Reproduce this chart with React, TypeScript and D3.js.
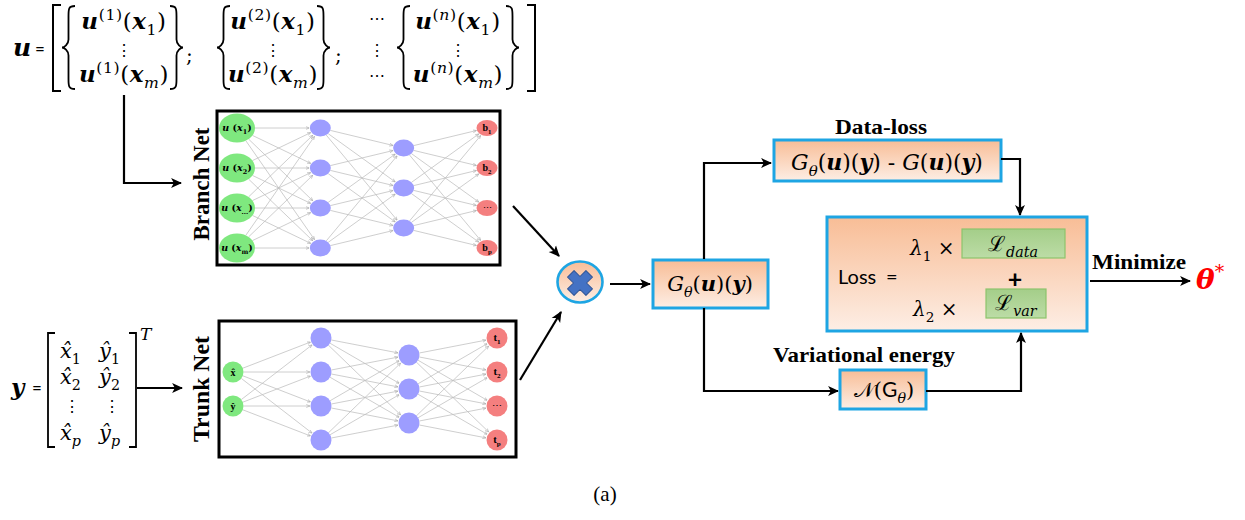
import React from "react";
import * as d3 from "d3";

// ---------- data ----------
const branchLayerSizes = [4, 4, 3, 4];
const trunkLayerSizes = [2, 4, 3, 4];
const branchInputSubs = ["1", "2", "...", "m"];
const branchOutputSubs = ["1", "2", "", "p"];
const trunkInputLabels = ["x\u0302", "y\u0302"];
const trunkOutputSubs = ["1", "2", "", "p"];
const uColumnSups = ["1", "2", "n"];
const yRows = [["1", "1"], ["2", "2"], ["", ""], ["p", "p"]];

const MATH = "DejaVu Serif";
const TIMES = "Liberation Serif";
const SANS = "Lato";
const BLUE_BORDER = "#1ea5e3";

type Seg = { t: string; b?: boolean; i?: boolean; sub?: boolean; sup?: boolean; f?: string };

function MathText(props: {
  x: number; y: number; segs: Seg[]; size: number; anchor?: string; family?: string; fill?: string; ls?: number;
}) {
  const { x, y, segs, size, anchor = "start", family = MATH, fill = "#000", ls = 0 } = props;
  let cur = 0;
  return (
    <text x={x} y={y} fontSize={size} fontFamily={family} textAnchor={anchor} fill={fill} letterSpacing={ls}>
      {segs.map((s, k) => {
        const target = s.sub ? size * 0.28 : s.sup ? -size * 0.4 : 0;
        const dy = target - cur;
        cur = target;
        return (
          <tspan
            key={k}
            dy={dy}
            fontWeight={s.b ? "bold" : "normal"}
            fontStyle={s.i ? "italic" : "normal"}
            fontSize={s.sub || s.sup ? size * 0.68 : size}
            fontFamily={s.f}
          >
            {s.t}
          </tspan>
        );
      })}
    </text>
  );
}

function braceLeft(x: number, y0: number, y1: number, w: number) {
  const ym = (y0 + y1) / 2;
  const xm = x + w / 2;
  return `M${x + w},${y0} C${xm},${y0} ${xm},${y0 + 3} ${xm},${y0 + 10} L${xm},${ym - 8} C${xm},${ym - 3} ${x + 2},${ym} ${x},${ym} C${x + 2},${ym} ${xm},${ym + 3} ${xm},${ym + 8} L${xm},${y1 - 10} C${xm},${y1 - 3} ${xm},${y1} ${x + w},${y1}`;
}
function braceRight(x: number, y0: number, y1: number, w: number) {
  const ym = (y0 + y1) / 2;
  const xm = x + w / 2;
  return `M${x},${y0} C${xm},${y0} ${xm},${y0 + 3} ${xm},${y0 + 10} L${xm},${ym - 8} C${xm},${ym - 3} ${x + w - 2},${ym} ${x + w},${ym} C${x + w - 2},${ym} ${xm},${ym + 3} ${xm},${ym + 8} L${xm},${y1 - 10} C${xm},${y1 - 3} ${xm},${y1} ${x},${y1}`;
}

type NodeSpec = { x: number; y: number; rx: number; ry: number; layer: number; idx: number };

function Network(props: {
  sizes: number[]; xRange: [number, number]; yc: number; step: number;
  radius: (layer: number) => [number, number]; idPrefix: string;
  inputLabel: (i: number, x: number, y: number) => React.ReactNode;
  outputLabel: (i: number, x: number, y: number) => React.ReactNode;
}) {
  const { sizes, xRange, yc, step, radius, inputLabel, outputLabel, idPrefix } = props;
  const xs = d3.scalePoint<number>().domain(sizes.map((_, i) => i)).range(xRange);
  const ys = d3.scaleLinear().domain([0, 1]).range([yc, yc + step]);
  const layers: NodeSpec[][] = sizes.map((n, l) =>
    d3.range(n).map((i) => {
      const [rx, ry] = radius(l);
      return { x: xs(l)!, y: ys(i - (n - 1) / 2), rx, ry, layer: l, idx: i };
    })
  );
  const edges: { x1: number; y1: number; x2: number; y2: number }[] = [];
  for (let l = 0; l < layers.length - 1; l++) {
    for (const a of layers[l]) {
      for (const b of layers[l + 1]) {
        const dx = b.x - a.x, dy = b.y - a.y;
        const sa = 1 / Math.sqrt((dx / a.rx) ** 2 + (dy / a.ry) ** 2);
        const sb = 1 / Math.sqrt((dx / b.rx) ** 2 + (dy / b.ry) ** 2);
        edges.push({ x1: a.x + dx * sa, y1: a.y + dy * sa, x2: b.x - dx * sb - dx * 0.01, y2: b.y - dy * sb - dy * 0.01 });
      }
    }
  }
  const fills = ["#7fe87f", "#9d9dff", "#9d9dff", "#f47f7f"];
  return (
    <g>
      <defs>
        <marker id={idPrefix + "arr"} viewBox="0 0 10 10" refX="9" refY="5" markerWidth="5" markerHeight="5" orient="auto">
          <path d="M0,1 L10,5 L0,9" fill="none" stroke="#a0a0a0" strokeWidth="1.4" />
        </marker>
      </defs>
      {edges.map((e, k) => (
        <line key={k} x1={e.x1} y1={e.y1} x2={e.x2} y2={e.y2} stroke="#bdbdbd" strokeWidth={0.75} markerEnd={`url(#${idPrefix}arr)`} />
      ))}
      {layers.flat().map((nd, k) => (
        <ellipse key={k} cx={nd.x} cy={nd.y} rx={nd.rx} ry={nd.ry} fill={fills[nd.layer]} />
      ))}
      {layers[0].map((nd) => inputLabel(nd.idx, nd.x, nd.y))}
      {layers[layers.length - 1].map((nd) => outputLabel(nd.idx, nd.x, nd.y))}
    </g>
  );
}

function Arrow({ d, id = "arrowBlack" }: { d: string; id?: string }) {
  return <path d={d} fill="none" stroke="#000" strokeWidth={2.2} markerEnd={`url(#${id})`} />;
}

export default function App() {
  const uCols = [
    { bl: 62, br: 170, cx: 124 },
    { bl: 217, br: 317, cx: 273 },
    { bl: 397, br: 506, cx: 458 },
  ];
  const G = (): Seg[] => [
    { t: "G", i: true },
    { t: "\u03B8", i: true, sub: true },
    { t: "(" },
    { t: "u", b: true, i: true },
    { t: ")(" },
    { t: "y", b: true, i: true },
    { t: ")" },
  ];
  return (
    <svg width={1245} height={520} style={{ display: "block", position: "absolute", left: 0, top: 0 }}>
      <defs>
        <marker id="arrowBlack" viewBox="0 0 10 10" refX="9" refY="5" markerWidth="5" markerHeight="5" orient="auto" markerUnits="strokeWidth">
          <path d="M0,0.5 L10,5 L0,9.5 L2.5,5 Z" fill="#000" />
        </marker>
        <linearGradient id="peach" x1="0" y1="0" x2="0" y2="1">
          <stop offset="0" stopColor="#f8bd96" />
          <stop offset="1" stopColor="#fdeee5" />
        </linearGradient>
        <linearGradient id="greenBox" x1="0" y1="0" x2="0" y2="1">
          <stop offset="0" stopColor="#a4ce89" />
          <stop offset="1" stopColor="#bcdca6" />
        </linearGradient>
      </defs>

      {/* ---------- u formula ---------- */}
      <MathText x={13} y={56} size={25} segs={[{ t: "u", b: true, i: true }]} />
      <text x={35} y={55} fontSize={17} fontFamily={SANS}>=</text>
      <path d="M61,5 H53 V91 H61" fill="none" stroke="#000" strokeWidth={2} />
      <path d="M527,5 H535 V91 H527" fill="none" stroke="#000" strokeWidth={2} />
      {uColumnSups.map((s, k) => {
        const c = uCols[k];
        const supSeg: Seg[] = s === "n" ? [{ t: "(", sup: true }, { t: "n", i: true, sup: true }, { t: ")", sup: true }] : [{ t: `(${s})`, sup: true }];
        return (
          <g key={k}>
            <path d={braceLeft(c.bl, 6, 89, 13)} fill="none" stroke="#000" strokeWidth={1.8} />
            <path d={braceRight(c.br, 6, 89, 13)} fill="none" stroke="#000" strokeWidth={1.8} />
            <MathText x={c.cx} y={29} size={23} ls={0.6} anchor="middle" segs={[{ t: "u", b: true, i: true }, ...supSeg, { t: "(" }, { t: "x", b: true, i: true }, { t: "1", sub: true }, { t: ")" }]} />
            <text x={c.cx} y={56} fontSize={16} fontFamily={MATH} textAnchor="middle">⋮</text>
            <MathText x={c.cx} y={82} size={23} ls={0.6} anchor="middle" segs={[{ t: "u", b: true, i: true }, ...supSeg, { t: "(" }, { t: "x", b: true, i: true }, { t: "m", i: true, sub: true }, { t: ")" }]} />
          </g>
        );
      })}
      <text x={186} y={62} fontSize={20} fontFamily={MATH}>;</text>
      <text x={335} y={62} fontSize={20} fontFamily={MATH}>;</text>
      <text x={377} y={24} fontSize={16} fontFamily={MATH} textAnchor="middle">⋯</text>
      <text x={377} y={56} fontSize={16} fontFamily={MATH} textAnchor="middle">⋮</text>
      <text x={377} y={81} fontSize={16} fontFamily={MATH} textAnchor="middle">⋯</text>

      <Arrow d="M124,95 V183 H181" />

      {/* ---------- Branch Net ---------- */}
      <text transform="translate(209,184) rotate(-90)" fontSize={23} fontFamily={TIMES} fontWeight="bold" textAnchor="middle" textLength={113} lengthAdjust="spacingAndGlyphs">Branch Net</text>
      <rect x={217} y={111} width={283} height={154} fill="#fff" stroke="#000" strokeWidth={3} />
      <Network
        sizes={branchLayerSizes}
        xRange={[237, 487]}
        yc={188}
        step={40}
        idPrefix="b"
        radius={(l) => (l === 0 ? [18, 14.5] : l === 3 ? [10.5, 8] : [10.5, 8.5])}
        inputLabel={(i, x, y) => (
          <MathText key={"bi" + i} x={x} y={y + 3} size={9.5} anchor="middle" segs={[{ t: "u", b: true, i: true }, { t: " (", b: true }, { t: "x", b: true, i: true }, { t: branchInputSubs[i], sub: true, b: true }, { t: ")", b: true }]} />
        )}
        outputLabel={(i, x, y) =>
          branchOutputSubs[i] ? (
            <MathText key={"bo" + i} x={x} y={y + 3} size={10} family={TIMES} anchor="middle" segs={[{ t: "b", b: true }, { t: branchOutputSubs[i], sub: true, b: true }]} />
          ) : (
            <text key={"bo" + i} x={x} y={y + 3} fontSize={9} textAnchor="middle" fontFamily={MATH}>⋯</text>
          )
        }
      />

      {/* ---------- y matrix ---------- */}
      <MathText x={11} y={395} size={23} segs={[{ t: "y", b: true, i: true }]} />
      <text x={32} y={394} fontSize={17} fontFamily={SANS}>=</text>
      <path d="M55,333 H48 V447 H55" fill="none" stroke="#000" strokeWidth={1.8} />
      <path d="M129,333 H136 V447 H129" fill="none" stroke="#000" strokeWidth={1.8} />
      <MathText x={140} y={340} size={17} segs={[{ t: "T", i: true }]} />
      {yRows.map((r, k) => {
        const yb = [358, 384, 410, 440][k];
        if (!r[0]) {
          return (
            <g key={k}>
              <text x={72} y={yb + 2} fontSize={16} fontFamily={MATH} textAnchor="middle">⋮</text>
              <text x={112} y={yb + 2} fontSize={16} fontFamily={MATH} textAnchor="middle">⋮</text>
            </g>
          );
        }
        return (
          <g key={k}>
            <MathText x={60} y={yb} size={21} segs={[{ t: "x\u0302", i: true }, { t: r[0], sub: true, i: r[0] === "p" }]} />
            <MathText x={99} y={yb} size={21} segs={[{ t: "y\u0302", i: true }, { t: r[1], sub: true, i: r[1] === "p" }]} />
          </g>
        );
      })}
      <Arrow d="M137,388 H182" />

      {/* ---------- Trunk Net ---------- */}
      <text transform="translate(209,389) rotate(-90)" fontSize={23} fontFamily={TIMES} fontWeight="bold" textAnchor="middle" textLength={106} lengthAdjust="spacingAndGlyphs">Trunk Net</text>
      <rect x={219} y={321} width={297} height={136} fill="#fff" stroke="#000" strokeWidth={3} />
      <Network
        sizes={trunkLayerSizes}
        xRange={[233, 497]}
        yc={389}
        step={34}
        idPrefix="t"
        radius={() => [10.5, 10.5]}
        inputLabel={(i, x, y) => (
          <text key={"ti" + i} x={x} y={y + 3.5} fontSize={10} fontWeight="bold" fontFamily={TIMES} textAnchor="middle">{trunkInputLabels[i]}</text>
        )}
        outputLabel={(i, x, y) =>
          trunkOutputSubs[i] ? (
            <MathText key={"to" + i} x={x} y={y + 3} size={10.5} family={TIMES} anchor="middle" segs={[{ t: "t", b: true }, { t: trunkOutputSubs[i], sub: true, b: true }]} />
          ) : (
            <text key={"to" + i} x={x} y={y + 3} fontSize={10} textAnchor="middle" fontFamily={MATH}>⋯</text>
          )
        }
      />

      {/* ---------- multiply ---------- */}
      <Arrow d="M513,206 L559,256" />
      <Arrow d="M520,380 L561,312" />
      <ellipse cx={580} cy={282} rx={22.5} ry={20.5} fill="url(#peach)" stroke={BLUE_BORDER} strokeWidth={2.6} />
      <path
        transform="translate(580,283) rotate(45)"
        d="M-4.6,-13 L4.6,-13 L4.6,-4.6 L13,-4.6 L13,4.6 L4.6,4.6 L4.6,13 L-4.6,13 L-4.6,4.6 L-13,4.6 L-13,-4.6 L-4.6,-4.6 Z"
        fill="#4472c4"
        stroke="#2f5597"
        strokeWidth={1}
        strokeLinejoin="round"
      />
      <Arrow d="M610,284 H650" />

      {/* ---------- G box ---------- */}
      <rect x={653} y={260} width={115} height={48} fill="url(#peach)" stroke={BLUE_BORDER} strokeWidth={3} />
      <MathText x={710} y={291} size={21} anchor="middle" segs={G()} />

      <Arrow d="M704,259 V163 H771" />
      <Arrow d="M704,308 V391 H838" />

      {/* ---------- Data-loss ---------- */}
      <text x={881} y={134} fontSize={21} fontFamily={TIMES} fontWeight="bold" textAnchor="middle" textLength={92} lengthAdjust="spacingAndGlyphs">Data-loss</text>
      <rect x={774} y={140} width={227} height={41} fill="url(#peach)" stroke={BLUE_BORDER} strokeWidth={3} />
      <MathText
        x={887}
        y={170}
        size={22}
        anchor="middle"
        segs={[...G(), { t: " - " }, { t: "G", i: true }, { t: "(" }, { t: "u", b: true, i: true }, { t: ")(" }, { t: "y", b: true, i: true }, { t: ")" }]}
      />
      <Arrow d="M1001,159 H1020 V215" />

      {/* ---------- Loss box ---------- */}
      <rect x={827} y={217} width={260} height={114} fill="url(#peach)" stroke={BLUE_BORDER} strokeWidth={3} />
      <text x={838} y={284} fontSize={20} fontFamily={SANS}>Loss</text>
      <text x={886} y={284} fontSize={20} fontFamily={SANS}>=</text>
      <MathText x={910} y={255} size={20} segs={[{ t: "\u03BB", i: true }, { t: "1", sub: true }, { t: " \u00D7" }]} />
      <rect x={962} y={229} width={103} height={29} fill="url(#greenBox)" stroke="#8dc46c" strokeWidth={1.2} />
      <MathText x={1013} y={251} size={21} anchor="middle" segs={[{ t: "\u2112" }, { t: "data", i: true, sub: true }]} />
      <text x={1015} y={288} fontSize={25} fontWeight="bold" fontFamily={SANS} textAnchor="middle">+</text>
      <MathText x={913} y={316} size={20} segs={[{ t: "\u03BB", i: true }, { t: "2", sub: true }, { t: " \u00D7" }]} />
      <rect x={986} y={289} width={60} height={29} fill="url(#greenBox)" stroke="#8dc46c" strokeWidth={1.2} />
      <MathText x={1016} y={310} size={21} anchor="middle" segs={[{ t: "\u2112" }, { t: "var", i: true, sub: true }]} />

      {/* ---------- Minimize ---------- */}
      <text x={1092} y={269} fontSize={21} fontFamily={TIMES} fontWeight="bold" textLength={94} lengthAdjust="spacingAndGlyphs">Minimize</text>
      <Arrow d="M1090,281 H1190" />
      <MathText x={1196} y={289} size={28} family={MATH} fill="#ff0000" segs={[{ t: "\u03B8", b: true, i: true }, { t: "*", sup: true }]} />

      {/* ---------- Variational energy ---------- */}
      <text x={773} y={362} fontSize={21} fontFamily={TIMES} fontWeight="bold" textLength={182} lengthAdjust="spacingAndGlyphs">Variational energy</text>
      <rect x={840} y={370} width={86} height={39} fill="url(#peach)" stroke={BLUE_BORDER} strokeWidth={3} />
      <MathText x={884} y={397} size={21} anchor="middle" segs={[{ t: "\uD835\uDCA9" }, { t: "(" }, { t: "G", f: SANS }, { t: "\u03B8", i: true, sub: true }, { t: ")" }]} />
      <Arrow d="M926,391 H1021 V333" />

      {/* ---------- caption ---------- */}
      <text x={605} y={501} fontSize={21} fontFamily={TIMES} textAnchor="middle">(a)</text>
    </svg>
  );
}
